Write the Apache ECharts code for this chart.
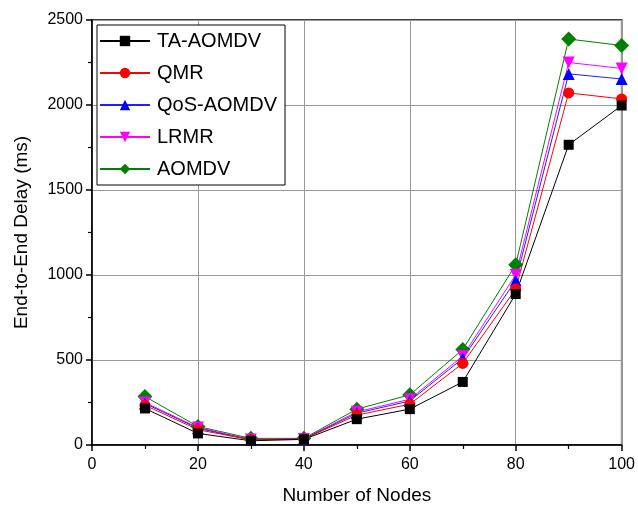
<!DOCTYPE html>
<html>
<head>
<meta charset="utf-8">
<script src="https://cdn.jsdelivr.net/npm/echarts@6/dist/echarts.min.js"></script>
<style>html,body{margin:0;padding:0;background:#fff;}#c{width:638px;height:510px;}</style>
</head>
<body>
<div id="c"></div>
<script>
const nodes = [10, 20, 30, 40, 50, 60, 70, 80, 90, 100];
const taAomdv = [215, 68, 25, 33, 152, 211, 371, 888, 1766, 1997];
const qmr = [234, 90, 30, 35, 176, 240, 480, 917, 2071, 2036];
const qosAomdv = [244, 98, 31, 35, 187, 259, 509, 968, 2183, 2153];
const lrmr = [250, 103, 32, 36, 195, 269, 523, 1001, 2250, 2215];
const aomdv = [285, 109, 39, 39, 211, 295, 562, 1060, 2388, 2350];
const seriesNames = ['TA-AOMDV', 'QMR', 'QoS-AOMDV', 'LRMR', 'AOMDV'];

const FONT = 'Liberation Sans, Arial, sans-serif';
function pairs(arr) { return nodes.map((n, i) => [n, arr[i]]); }

const defs = [
  { name: seriesNames[0], data: taAomdv, color: '#000000', line: '#000000', symbol: 'rect', size: 10, rot: 0 },
  { name: seriesNames[1], data: qmr, color: '#ff0000', line: '#ff0000', symbol: 'circle', size: 11, rot: 0 },
  { name: seriesNames[2], data: qosAomdv, color: '#0000ff', line: '#2020ff', symbol: 'triangle', size: 12, rot: 0 },
  { name: seriesNames[3], data: lrmr, color: '#ff00ff', line: '#ff00ff', symbol: 'triangle', size: 12, rot: 180 },
  { name: seriesNames[4], data: aomdv, color: '#008000', line: '#008000', symbol: 'diamond', size: 15, rot: 0 }
];

const chart = echarts.init(document.getElementById('c'), null, { renderer: 'canvas' });
chart.setOption({
  animation: false,
  backgroundColor: '#ffffff',
  textStyle: { fontFamily: FONT },
  grid: { left: 92, right: 15, top: 20, bottom: 64, show: true, borderColor: '#000', borderWidth: 1.5 },
  legend: {
    left: 97, top: 25, orient: 'vertical',
    data: seriesNames,
    itemWidth: 50, itemHeight: 13, itemGap: 12,
    padding: [6, 8, 6, 2],
    borderColor: '#000', borderWidth: 1, backgroundColor: '#fff',
    textStyle: { fontSize: 20, color: '#000', fontFamily: FONT, padding: [0, 0, 0, 2] }
  },
  xAxis: {
    type: 'value', min: 0, max: 100, interval: 20,
    name: 'Number of Nodes', nameLocation: 'middle', nameGap: 41,
    nameTextStyle: { fontSize: 19, color: '#000', fontFamily: FONT },
    axisLine: { show: true, lineStyle: { color: '#000', width: 1.5 } },
    axisTick: { show: true, inside: false, length: 6, lineStyle: { color: '#000', width: 1.5 } },
    minorTick: { show: true, splitNumber: 2, length: 4, lineStyle: { color: '#000', width: 1.2 } },
    axisLabel: { fontSize: 16, color: '#000', margin: 12, fontFamily: FONT, formatter: v => String(v) },
    splitLine: { show: true, lineStyle: { color: '#999', width: 1 } }
  },
  yAxis: {
    type: 'value', min: 0, max: 2500, interval: 500,
    name: 'End-to-End Delay (ms)', nameLocation: 'middle', nameGap: 61,
    nameTextStyle: { fontSize: 19, color: '#000', fontFamily: FONT },
    axisLine: { show: true, lineStyle: { color: '#000', width: 1.5 } },
    axisTick: { show: true, inside: false, length: 6, lineStyle: { color: '#000', width: 1.5 } },
    minorTick: { show: true, splitNumber: 2, length: 4, lineStyle: { color: '#000', width: 1.2 } },
    axisLabel: { fontSize: 16, color: '#000', margin: 9, fontFamily: FONT, formatter: v => String(v) },
    splitLine: { show: true, lineStyle: { color: '#999', width: 1 } }
  },
  series: defs.map(d => ({
    name: d.name, type: 'line', data: pairs(d.data),
    symbol: d.symbol, symbolSize: d.size, symbolRotate: d.rot,
    lineStyle: { color: d.line, width: 1 },
    itemStyle: { color: d.color },
    z: 2
  })).reverse()
});
</script>
</body>
</html>
